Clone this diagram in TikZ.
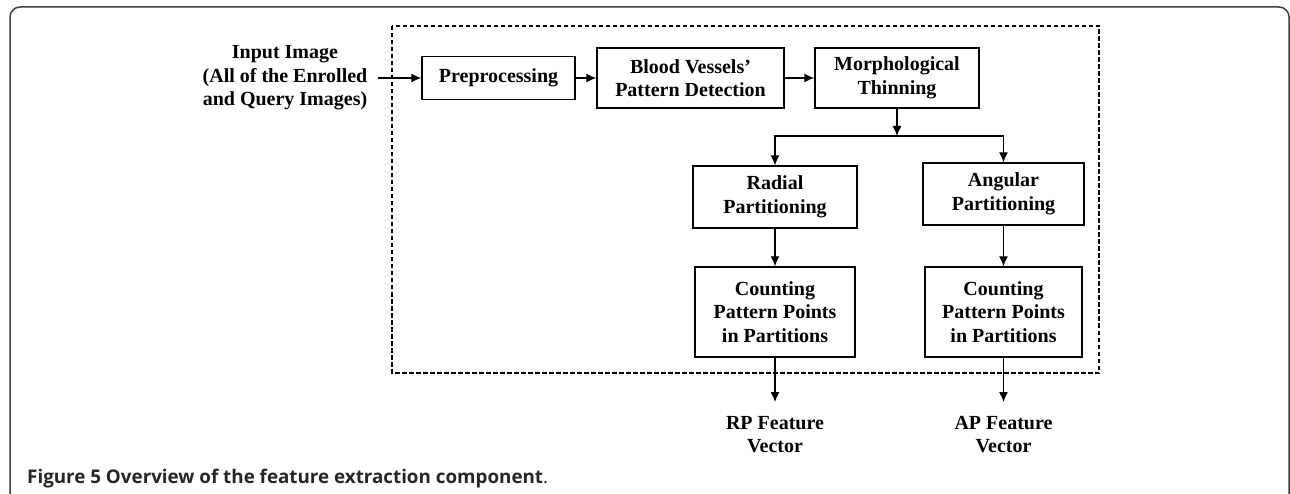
\documentclass[tikz,border=0pt]{standalone}
\usepackage{fontspec}
\setmainfont{Liberation Serif}
\newfontfamily\capfont{Open Sans}
\usetikzlibrary{arrows.meta}
\usetikzlibrary{positioning}

\tikzset{
  stage/.style={draw, line width=1.4pt, align=center, inner sep=0pt,
    font=\bfseries\fontsize{20}{23.5}\selectfont},
  outtext/.style={align=center, inner xsep=0pt, inner ysep=0pt,
    font=\bfseries\fontsize{20}{23.5}\selectfont},
  flow/.style={-{Latex[length=10pt,width=9pt]}, line width=1.3pt}
}

\begin{document}
\begin{tikzpicture}[x=1pt,y=-1pt]
\useasboundingbox (0,0) rectangle (1290,494);
\draw[line width=1.5pt, black!75, rounded corners=10pt] (10,505) -- (10,7) -- (1289,7) -- (1289,505);
\draw[line width=1.3pt, dash pattern=on 4.5pt off 2.5pt] (392,26) rectangle (1099,373);

\node[outtext, inner xsep=10pt] (input) at (285,78) {Input Image\\(All of the Enrolled\\and Query Images)};
\node[stage, minimum width=153pt, minimum height=43pt] (pre) at (498.5,78) {Preprocessing};
\node[stage, minimum width=187pt, minimum height=60pt] (blood) at (690.5,78) {Blood Vessels'\\Pattern Detection};
\node[stage, minimum width=164pt, minimum height=60pt] (morph) at (897,78) {Morphological\\Thinning};
\coordinate (split) at (897,136);
\node[stage, minimum width=164pt, minimum height=62pt] (radial) at (775,197) {Radial\\Partitioning};
\node[stage, minimum width=161pt, minimum height=62pt] (angular) at (1003.5,194) {Angular\\Partitioning};
\node[stage, minimum width=160pt, minimum height=90pt] (rcount) at (775,312) {Counting\\Pattern Points\\in Partitions};
\node[stage, minimum width=157pt, minimum height=90pt] (acount) at (1003.5,312) {Counting\\Pattern Points\\in Partitions};
\node[outtext, anchor=north, inner ysep=14pt] (rp) at (775,402) {RP Feature\\Vector};
\node[outtext, anchor=north, inner ysep=14pt] (ap) at (1003.5,402) {AP Feature\\Vector};

\draw[flow] (input.east) -- (pre.west);
\draw[flow] (pre) -- (blood);
\draw[flow] (blood) -- (morph);
\draw[flow] (morph) -- (split);
\draw[flow] (split) -| (radial);
\draw[flow] (split) -| (angular);
\draw[flow] (radial) -- (rcount);
\draw[flow] (angular) -- (acount);
\draw[flow] (rcount) -- (rp);
\draw[flow] (acount) -- (ap);

\node[anchor=base west, inner sep=0pt, text=black!85] (caption) at (27,483)
  {\capfont\fontsize{18.8}{22}\selectfont\textbf{Figure 5 Overview of the feature extraction component}.};
\end{tikzpicture}
\end{document}
